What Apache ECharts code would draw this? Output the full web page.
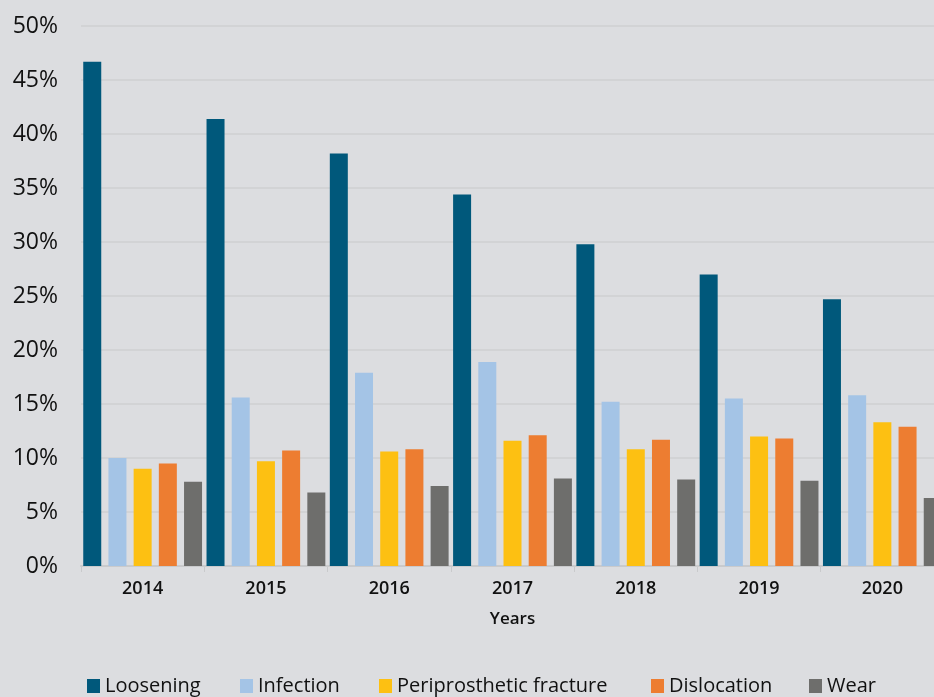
<!DOCTYPE html>
<html>
<head>
<meta charset="utf-8">
<script src="https://cdn.jsdelivr.net/npm/echarts@6/dist/echarts.min.js"></script>
<style>
  html, body { margin: 0; padding: 0; background: #dcdde0; }
  #chart { width: 934px; height: 697px; }
</style>
</head>
<body>
<div id="chart"></div>
<script>
// Revision causes by year, share of all revisions (%)
const years = ['2014', '2015', '2016', '2017', '2018', '2019', '2020'];
const loosening = [46.7, 41.4, 38.2, 34.4, 29.8, 27.0, 24.7];
const infection = [10.0, 15.6, 17.9, 18.9, 15.2, 15.5, 15.8];
const fracture = [9.0, 9.7, 10.6, 11.6, 10.8, 12.0, 13.3];
const dislocation = [9.5, 10.7, 10.8, 12.1, 11.7, 11.8, 12.9];
const wear = [7.8, 6.8, 7.4, 8.1, 8.0, 7.9, 6.3];
const yTicks = [0, 5, 10, 15, 20, 25, 30, 35, 40, 45, 50];

const FONT = '"Open Sans", "Noto Sans", sans-serif';

const seriesDefs = [
  { name: 'Loosening', data: loosening, color: '#00587b' },
  { name: 'Infection', data: infection, color: '#a4c4e6' },
  { name: 'Periprosthetic fracture', data: fracture, color: '#fdc012' },
  { name: 'Dislocation', data: dislocation, color: '#ed7d31' },
  { name: 'Wear', data: wear, color: '#6e6e6c' }
];

// one legend block per series so each entry sits at its own x
const legendLefts = [87, 240, 379, 651, 809];

const chart = echarts.init(document.getElementById('chart'), null, { renderer: 'canvas' });

chart.setOption({
  backgroundColor: '#dcdde0',
  animation: false,
  textStyle: { fontFamily: FONT },
  grid: { left: 81, top: 26, width: 863, height: 540, containLabel: false, outerBoundsMode: 'none' },
  legend: seriesDefs.map((s, i) => ({
    left: legendLefts[i],
    top: 676,
    padding: 0,
    itemWidth: 13,
    itemHeight: 14,
    icon: 'rect',
    textStyle: { fontFamily: FONT, fontSize: 20, color: '#111' },
    data: [s.name]
  })),
  xAxis: {
    type: 'category',
    data: years,
    name: 'Years',
    nameLocation: 'middle',
    nameGap: 45,
    nameTextStyle: { fontFamily: FONT, fontSize: 17, fontWeight: 600, color: '#111' },
    axisLine: { show: true, lineStyle: { color: '#c9cacc', width: 2 } },
    axisTick: { show: true, length: 6, lineStyle: { color: '#c9cacc', width: 1 } },
    axisLabel: { fontFamily: FONT, fontSize: 18, fontWeight: 600, color: '#111', margin: 14 }
  },
  yAxis: {
    type: 'value',
    min: yTicks[0],
    max: yTicks[yTicks.length - 1],
    interval: yTicks[1] - yTicks[0],
    axisLine: { show: false },
    axisTick: { show: false },
    splitLine: { show: true, lineStyle: { color: '#d2d3d5', width: 2 } },
    axisLabel: {
      fontFamily: FONT, fontSize: 23, color: '#111', margin: 23,
      formatter: v => v + '%'
    }
  },
  series: seriesDefs.map(s => ({
    name: s.name,
    type: 'bar',
    data: s.data,
    barWidth: 18,
    barGap: '40%',
    itemStyle: { color: s.color }
  }))
});
</script>
</body>
</html>
